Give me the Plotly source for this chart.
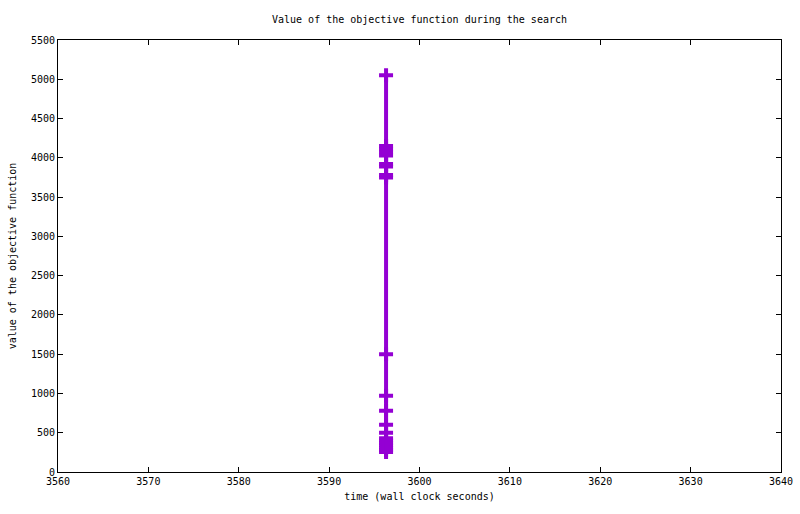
import plotly.graph_objects as go

# data: all points at (almost) the same wall-clock time
times = [3596.3] * 21
values = [5050, 4150, 4110, 4070, 4030, 3920, 3890, 3780, 3750,
          1500, 970, 780, 600, 500, 430, 400, 370, 340, 310, 280, 255]

x_ticks = [3560, 3570, 3580, 3590, 3600, 3610, 3620, 3630, 3640]
y_ticks = list(range(0, 5501, 500))

color = "#9400D3"
font = dict(family="DejaVu Sans Mono, Liberation Mono, monospace", size=10, color="black")

fig = go.Figure()
fig.add_trace(go.Scatter(
    x=times, y=values, mode="lines+markers",
    line=dict(color=color, width=4),
    marker=dict(symbol="cross-thin", size=10, color=color,
                line=dict(color=color, width=4)),
    showlegend=False, hoverinfo="x+y",
))

axis_common = dict(
    showgrid=False, zeroline=False, showline=True, linecolor="black", linewidth=1,
    mirror="allticks", ticks="inside", ticklen=5, tickcolor="black", tickwidth=1,
    tickfont=font, automargin=False,
)

fig.update_layout(
    width=800, height=514,
    margin=dict(l=58, r=19, t=40, b=42),
    paper_bgcolor="white", plot_bgcolor="white",
    font=font,
    title=dict(text="Value of the objective function during the search",
               xref="paper", x=0.5, xanchor="center",
               yref="container", y=1 - 19 / 514, yanchor="middle",
               font=font),
    xaxis=dict(range=[3560, 3640], tickvals=x_ticks,
               ticktext=[str(v) for v in x_ticks],
               title=dict(text="time (wall clock seconds)", font=font, standoff=6),
               **axis_common),
    yaxis=dict(range=[0, 5500], tickvals=y_ticks,
               ticktext=[str(v) for v in y_ticks],
               title=dict(text="value of the objective function", font=font, standoff=12),
               **axis_common),
)

fig.write_html("out.html", config={"displayModeBar": False},
               post_script="document.body.style.margin='0';")
